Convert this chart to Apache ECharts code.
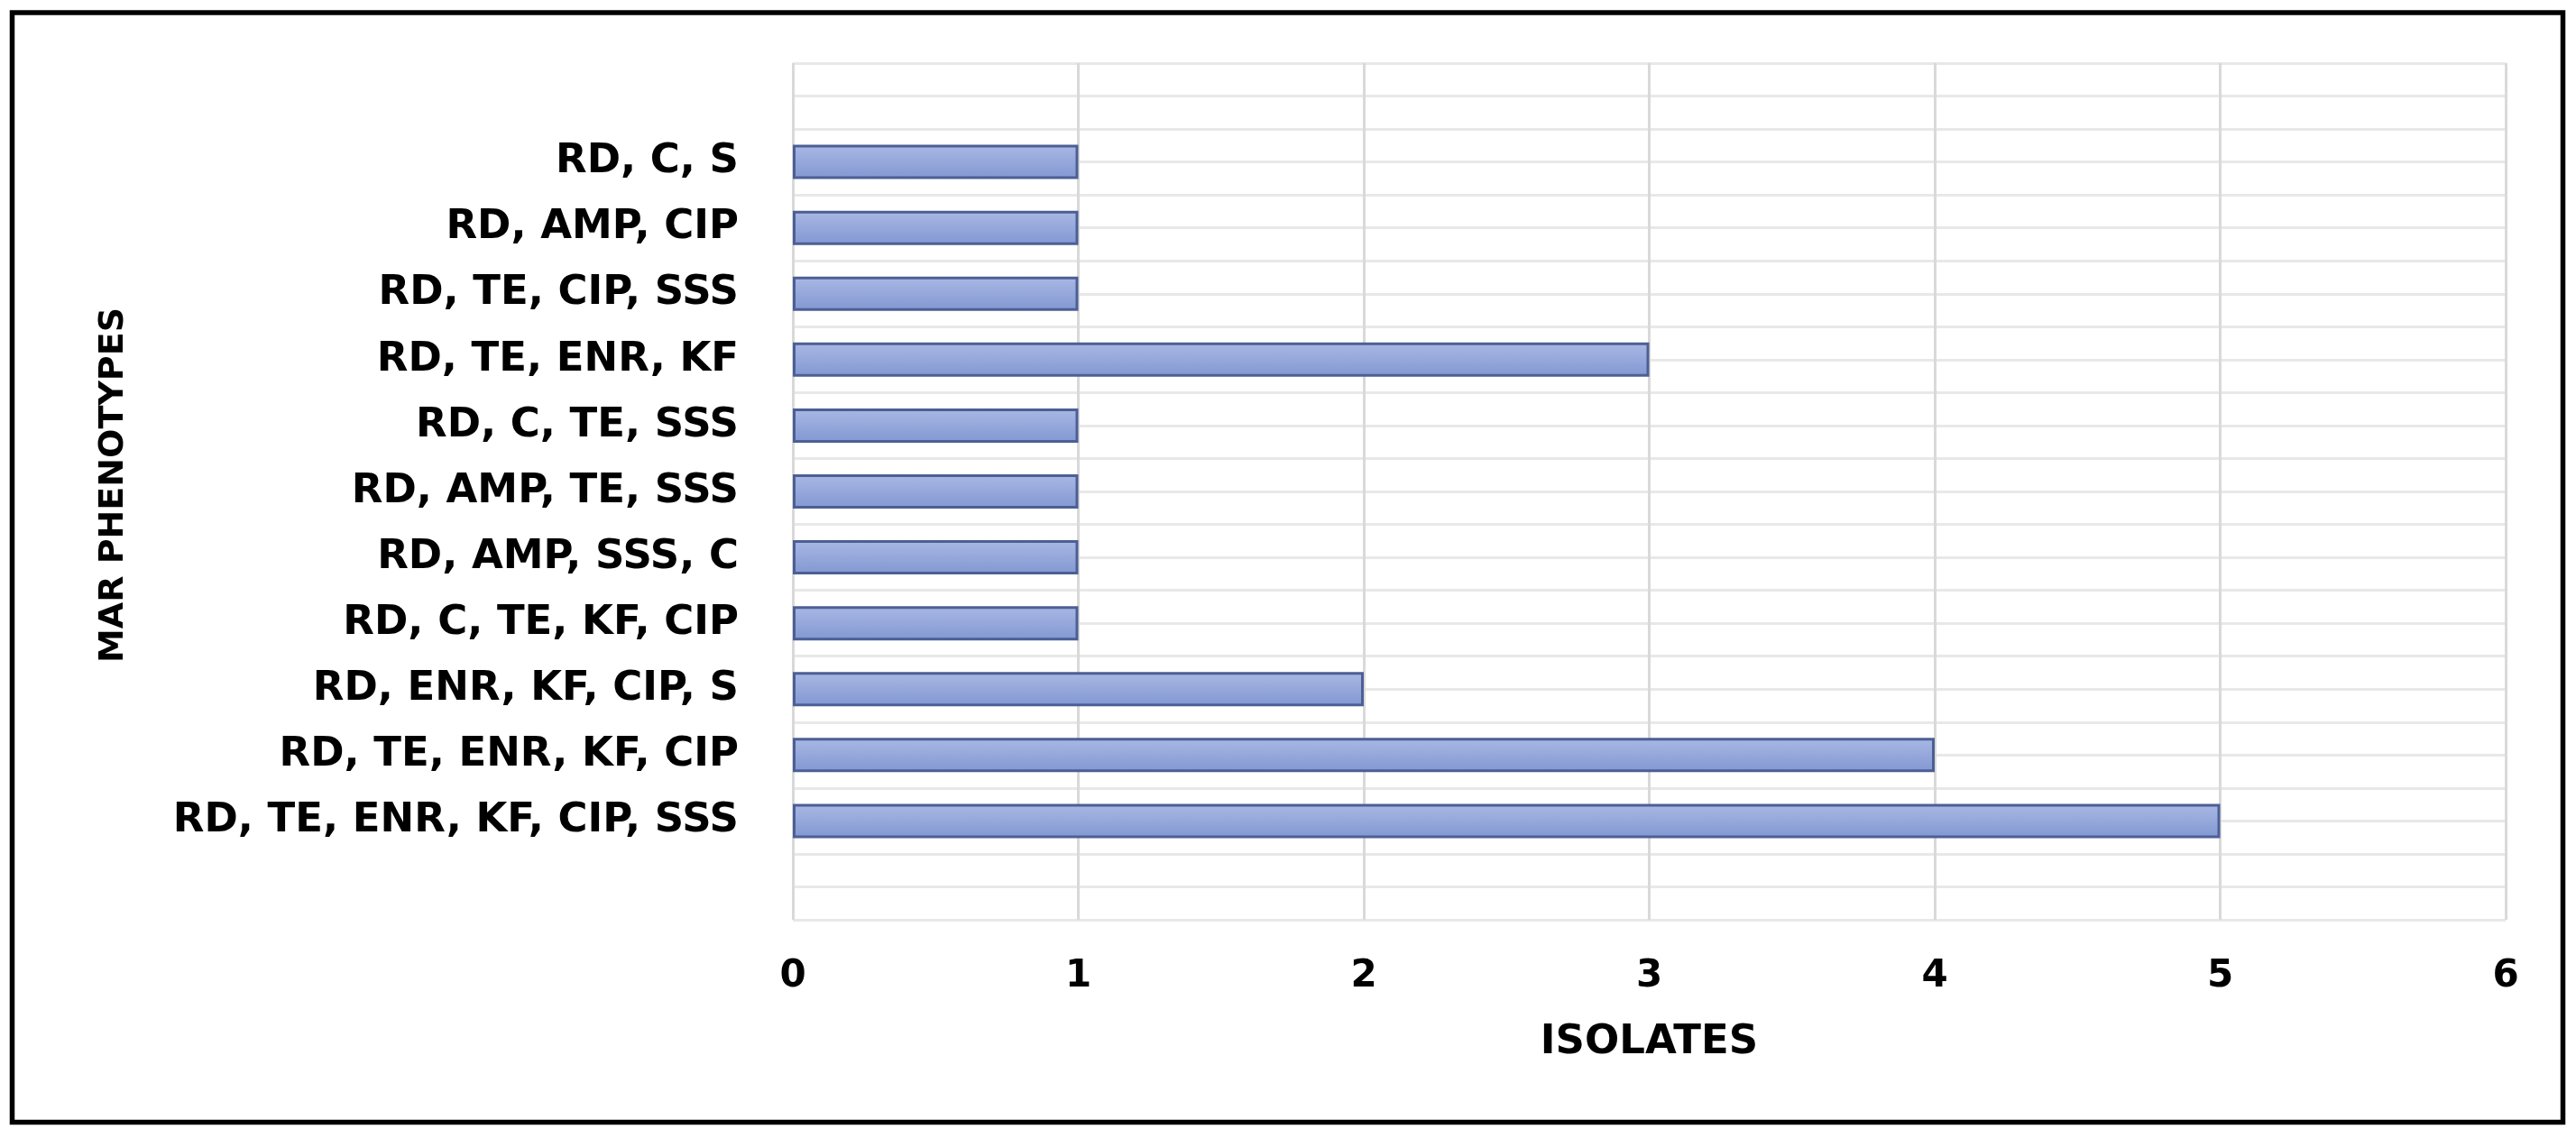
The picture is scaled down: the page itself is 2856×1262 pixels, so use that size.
<!DOCTYPE html>
<html>
<head>
<meta charset="utf-8">
<title>MAR phenotypes</title>
<script src="https://cdn.jsdelivr.net/npm/echarts@6/dist/echarts.min.js"></script>
<style>
  html, body { margin: 0; padding: 0; background: #fff; }
  #chart { width: 2856px; height: 1262px; }
</style>
</head>
<body>
<div id="chart"></div>
<script>
// categories from bottom to top, blank slot at each end like the original
const phenotypes = [
  '',
  'RD, TE, ENR, KF, CIP, SSS',
  'RD, TE, ENR, KF, CIP',
  'RD, ENR, KF, CIP, S',
  'RD, C, TE, KF, CIP',
  'RD, AMP, SSS, C',
  'RD, AMP, TE, SSS',
  'RD, C, TE, SSS',
  'RD, TE, ENR, KF',
  'RD, TE, CIP, SSS',
  'RD, AMP, CIP',
  'RD, C, S',
  ''
];
const isolates = [null, 5, 4, 2, 1, 1, 1, 1, 3, 1, 1, 1, null];
const xTicks = [0, 1, 2, 3, 4, 5, 6];

const FONT = 'DejaVu Sans';
const chart = echarts.init(document.getElementById('chart'), null, { renderer: 'canvas' });

chart.setOption({
  backgroundColor: '#fff',
  animation: false,
  graphic: [{
    type: 'rect',
    shape: { x: 13.5, y: 14, width: 2828, height: 1230.5 },
    style: { fill: 'none', stroke: '#000', lineWidth: 5.5 },
    silent: true
  }],
  grid: { left: 879, right: 78, top: 70, bottom: 242 },
  xAxis: {
    type: 'value',
    min: xTicks[0],
    max: xTicks[xTicks.length - 1],
    interval: 1,
    name: 'ISOLATES',
    nameLocation: 'middle',
    nameGap: 114,
    nameTextStyle: { fontFamily: FONT, fontWeight: 'bold', fontSize: 45, color: '#000' },
    axisLine: { show: false },
    axisTick: { show: false },
    axisLabel: { margin: 42, fontFamily: FONT, fontWeight: 'bold', fontSize: 42, color: '#000' },
    splitLine: { show: true, lineStyle: { color: '#d9d9d9', width: 3 } }
  },
  yAxis: [{
    type: 'category',
    data: phenotypes,
    name: 'MAR PHENOTYPES',
    nameLocation: 'middle',
    nameGap: 734,
    nameTextStyle: { fontFamily: FONT, fontWeight: 'bold', fontSize: 38, color: '#000', padding: [0, 0, 0, 14] },
    axisLine: { show: false },
    axisTick: { show: false },
    axisLabel: { margin: 60, fontFamily: FONT, fontWeight: 'bold', fontSize: 45, color: '#000' },
    splitLine: { show: false }
  }, {
    // hidden axis that only draws the half-band horizontal grid lines
    type: 'value',
    min: 0,
    max: 26,
    interval: 1,
    position: 'left',
    axisLine: { show: false },
    axisTick: { show: false },
    axisLabel: { show: false },
    splitLine: { show: true, lineStyle: { color: '#e8e8e8', width: 3 } }
  }],
  series: [{
    type: 'bar',
    yAxisIndex: 0,
    data: isolates,
    barWidth: '52%',
    itemStyle: {
      color: new echarts.graphic.LinearGradient(0, 0, 0, 1, [
        { offset: 0, color: '#a9b8e4' },
        { offset: 1, color: '#8297d2' }
      ]),
      borderColor: '#4c5f95',
      borderWidth: 3
    }
  }]
});
</script>
</body>
</html>
